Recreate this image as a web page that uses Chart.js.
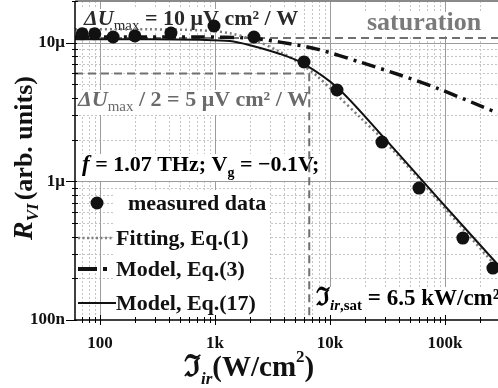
<!DOCTYPE html>
<html><head><meta charset="utf-8">
<script src="https://cdn.jsdelivr.net/npm/chart.js@4/dist/chart.umd.min.js"></script>
<style>html,body{margin:0;padding:0;background:#fff}#wrap{width:498px;height:388px}</style>
</head><body><div id="wrap"><canvas id="c" width="498" height="388"></canvas></div>
<script>
// ---- data ----
const xTickValues = [100, 1000, 10000, 100000];
const xTickLabels = ['100', '1k', '10k', '100k'];
const yTickValues = [1e-7, 1e-6, 1e-5];
const yTickLabels = ['100n', '1μ', '10μ'];

const measuredX = [70, 90, 130, 201, 414, 980, 2180, 5940, 11500, 28300, 59400, 143000, 261000];
const measuredY = [11.6e-6, 11.6e-6, 11.0e-6, 11.2e-6, 11.75e-6, 13.2e-6, 11.0e-6, 7.26e-6, 4.56e-6, 1.92e-6, 0.895e-6, 0.39e-6, 0.237e-6];

const fitX = [60.6, 272, 741, 1349, 2228, 3675, 5480, 7710, 11500, 18240, 28900, 60700, 135000, 289000];
const fitY = [12.5e-6, 12.5e-6, 12.3e-6, 11.7e-6, 10.4e-6, 8.6e-6, 7.1e-6, 5.75e-6, 4.2e-6, 2.9e-6, 2.0e-6, 1.02e-6, 0.48e-6, 0.235e-6];

const eq3X = [60.6, 741, 2015, 3675, 7710, 18240, 40600, 85200, 213000, 289000];
const eq3Y = [11.0e-6, 11.0e-6, 10.8e-6, 10.1e-6, 9.0e-6, 7.25e-6, 5.85e-6, 4.7e-6, 3.45e-6, 3.1e-6];

const eq17X = [60.6, 272, 741, 1349, 2015, 3675, 5820, 11740, 28900, 85200, 289000];
const eq17Y = [10.6e-6, 10.6e-6, 10.5e-6, 10.3e-6, 9.6e-6, 8.3e-6, 7.1e-6, 4.7e-6, 2.1e-6, 0.77e-6, 0.25e-6];

const uMaxLevel = 10.8e-6;
const uHalfLevel = 6.0e-6;
const satIntensity = 6600;

const xMin = 60.6, xMax = 289000, yMin = 1e-7, yMax = 2e-5;

// ---- helpers ----
const SERIF = "'Liberation Serif','DejaVu Serif',serif";
const pts = (xs, ys) => xs.map((x, i) => ({x, y: ys[i]}));
function F(size, style) { return (style || 'bold') + ' ' + size + 'px ' + SERIF; }
function richWidth(ctx, parts) {
  let w = 0;
  for (const p of parts) { ctx.font = p.f; w += ctx.measureText(p.t).width + (p.sp || 0); }
  return w;
}
function rich(ctx, x, y, parts, color) {
  let cx = x;
  ctx.textBaseline = 'alphabetic'; ctx.textAlign = 'left';
  for (const p of parts) {
    ctx.font = p.f; ctx.fillStyle = p.c || color;
    ctx.fillText(p.t, cx, y + (p.dy || 0));
    cx += ctx.measureText(p.t).width + (p.sp || 0);
  }
  return cx - x;
}
function seg(ctx, x1, y1, x2, y2) { ctx.beginPath(); ctx.moveTo(x1, y1); ctx.lineTo(x2, y2); ctx.stroke(); }

const annot = {
  uMax: [
    {t: 'ΔU', f: F(22, 'italic bold')},
    {t: 'max', f: F(15, 'normal'), dy: 5},
    {t: ' = 10 μV cm² / W', f: F(22)}
  ],
  uHalf: [
    {t: 'ΔU', f: F(22, 'italic bold')},
    {t: 'max', f: F(15, 'normal'), dy: 5},
    {t: ' / 2 = 5 μV cm² / W', f: F(22)}
  ],
  sat: [{t: 'saturation', f: F(26)}],
  freq: [
    {t: 'f', f: F(23, 'italic bold')},
    {t: ' = 1.07 THz; V', f: F(22)},
    {t: 'g', f: F(14), dy: 6},
    {t: ' = −0.1V;', f: F(22)}
  ],
  isat: [
    {t: 'ℑ', f: F(25)},
    {t: 'ir', f: F(15, 'italic bold'), dy: 5},
    {t: ',sat', f: F(15), dy: 5},
    {t: ' = 6.5 kW/cm²', f: F(23)}
  ]
};

const deco = {
  id: 'deco',
  beforeDatasetsDraw(chart) {
    const {ctx, chartArea: a, scales: {x, y}} = chart;
    ctx.save();
    ctx.beginPath(); ctx.rect(a.left, a.top, a.right - a.left, a.bottom - a.top); ctx.clip();
    // minor grid
    ctx.strokeStyle = '#c4c4c4'; ctx.lineWidth = 1; ctx.setLineDash([2, 2]);
    for (let d = 1; d <= 5; d++) for (let m = 2; m <= 9; m++) {
      const v = m * Math.pow(10, d); if (v < x.min || v > x.max) continue;
      const px = Math.round(x.getPixelForValue(v)) + 0.5; seg(ctx, px, a.top, px, a.bottom);
    }
    for (let d = -7; d <= -5; d++) for (let m = 2; m <= 9; m++) {
      const v = m * Math.pow(10, d); if (v < y.min || v > y.max) continue;
      const py = Math.round(y.getPixelForValue(v)) + 0.5; seg(ctx, a.left, py, a.right, py);
    }
    // major grid
    ctx.setLineDash([]); ctx.strokeStyle = '#9c9c9c'; ctx.lineWidth = 1;
    xTickValues.forEach(v => { const px = Math.round(x.getPixelForValue(v)) + 0.5; seg(ctx, px, a.top, px, a.bottom); });
    yTickValues.forEach(v => { const py = Math.round(y.getPixelForValue(v)) + 0.5; seg(ctx, a.left, py, a.right, py); });
    ctx.restore();

    // annotations with white boxes
    ctx.save();
    const box = (x0, base, parts, color, up, down) => {
      const w = richWidth(ctx, parts);
      ctx.fillStyle = '#fff'; ctx.fillRect(x0 - 2, base - up, w + 4, up + down);
      rich(ctx, x0, base, parts, color);
    };
    box(84, 25, annot.uMax, '#2a2a2a', 16, 8);
    box(78, 106, annot.uHalf, '#6a6a6a', 16, 9);
    box(367, 30, annot.sat, '#7a7a7a', 18, 6);
    box(82, 171, annot.freq, '#000', 17, 10);
    box(316, 305, annot.isat, '#000', 18, 11);

    // legend
    ctx.fillStyle = '#fff'; ctx.fillRect(115, 190, 155, 128);
    const lf = F(22);
    rich(ctx, 128, 210, [{t: 'measured data', f: lf}], '#111');
    rich(ctx, 116, 245, [{t: 'Fitting, Eq.(1)', f: lf}], '#111');
    rich(ctx, 116, 276, [{t: 'Model, Eq.(3)', f: lf}], '#111');
    rich(ctx, 116, 310, [{t: 'Model, Eq.(17)', f: lf}], '#111');
    ctx.restore();
  },
  afterDatasetsDraw(chart) {
    const {ctx, chartArea: a, scales: {x, y}} = chart;
    ctx.save();
    // legend symbols
    ctx.fillStyle = '#111'; ctx.beginPath(); ctx.arc(97, 203, 6.5, 0, Math.PI * 2); ctx.fill();
    ctx.strokeStyle = '#808080'; ctx.lineWidth = 2.5; ctx.setLineDash([2, 2.5]); seg(ctx, 78, 238, 114, 238);
    ctx.setLineDash([]); ctx.strokeStyle = '#111'; ctx.lineWidth = 4; seg(ctx, 78, 269, 97, 269);
    ctx.fillRect(103, 267, 4, 4);
    ctx.lineWidth = 2; seg(ctx, 78, 303, 116, 303);

    // top border
    ctx.strokeStyle = '#8a8a8a'; ctx.lineWidth = 2; seg(ctx, a.left, a.top, a.right, a.top);
    // axes
    ctx.strokeStyle = '#000'; ctx.lineWidth = 1.5;
    seg(ctx, a.left, a.top, a.left, a.bottom + 0.75);
    seg(ctx, a.left - 0.75, a.bottom, a.right, a.bottom);
    // tick marks
    ctx.lineWidth = 1;
    for (let d = 1; d <= 5; d++) for (let m = 1; m <= 9; m++) {
      const v = m * Math.pow(10, d); if (v < x.min || v > x.max) continue;
      const px = Math.round(x.getPixelForValue(v)) + 0.5;
      if (m === 1) seg(ctx, px, a.bottom - 5, px, a.bottom + 5); else seg(ctx, px, a.bottom - 3, px, a.bottom + 3);
    }
    for (let d = -7; d <= -5; d++) for (let m = 1; m <= 9; m++) {
      const v = m * Math.pow(10, d); if (v < y.min || v > y.max) continue;
      const py = Math.round(y.getPixelForValue(v)) + 0.5;
      if (m === 1) seg(ctx, a.left - 9, py, a.left + 2, py); else seg(ctx, a.left - 3, py, a.left + 3, py);
    }
    // x axis title
    const xt = [
      {t: 'ℑ', f: F(30)},
      {t: 'ir', f: F(17, 'italic bold'), dy: 8},
      {t: '(W/cm', f: F(29)},
      {t: '2', f: F(17), dy: -14},
      {t: ')', f: F(29)}
    ];
    rich(ctx, 184, 376, xt, '#111');
    // y axis title (rotated)
    const yt = [
      {t: 'R', f: F(28, 'italic bold')},
      {t: 'VI', f: F(17, 'italic bold'), dy: 6, sp: 3},
      {t: '(arb. units)', f: F(26)}
    ];
    ctx.translate(32, 158);
    ctx.rotate(-Math.PI / 2);
    const w = richWidth(ctx, yt);
    rich(ctx, -w / 2, 0, yt, '#111');
    ctx.restore();
  }
};

const dashed = {borderColor: '#707070', borderWidth: 2, borderDash: [8, 5], pointRadius: 0, showLine: true, fill: false};

new Chart(document.getElementById('c'), {
  type: 'scatter',
  data: {
    datasets: [
      {label: 'measured data', data: pts(measuredX, measuredY), pointRadius: 6.5, pointBackgroundColor: '#111', pointBorderColor: '#111', pointBorderWidth: 0, showLine: false},
      {label: 'Model, Eq.(17)', data: pts(eq17X, eq17Y), showLine: true, borderColor: '#111', borderWidth: 2, pointRadius: 0, tension: 0.3},
      {label: 'Fitting, Eq.(1)', data: pts(fitX, fitY), showLine: true, borderColor: '#7a7a7a', borderWidth: 2.5, borderDash: [2, 3], pointRadius: 0, tension: 0.3},
      {label: 'Model, Eq.(3)', data: pts(eq3X, eq3Y), showLine: true, borderColor: '#111', borderWidth: 3.5, borderDash: [14, 6, 3, 6], pointRadius: 0, tension: 0.3},
      Object.assign({label: 'max', data: [{x: xMin, y: uMaxLevel}, {x: xMax, y: uMaxLevel}]}, dashed),
      Object.assign({label: 'half', data: [{x: xMin, y: uHalfLevel}, {x: satIntensity, y: uHalfLevel}, {x: satIntensity, y: yMin}]}, dashed)
    ]
  },
  options: {
    responsive: false, animation: false, devicePixelRatio: 1,
    layout: {autoPadding: false, padding: {top: 1, right: 0, left: 0, bottom: 0}},
    plugins: {legend: {display: false}, tooltip: {enabled: false}},
    scales: {
      x: {
        type: 'logarithmic', min: xMin, max: xMax,
        afterBuildTicks: s => { s.ticks = xTickValues.map(v => ({value: v})); },
        afterFit: s => { s.height = 68; s.paddingLeft = 0; s.paddingRight = 0; },
        grid: {display: false, drawTicks: false}, border: {display: false},
        ticks: {autoSkip: false, maxRotation: 0, padding: 13, color: '#111', font: {family: SERIF, size: 17, weight: 'bold'}, callback: (v, i) => xTickLabels[i]}
      },
      y: {
        type: 'logarithmic', min: yMin, max: yMax,
        afterBuildTicks: s => { s.ticks = yTickValues.map(v => ({value: v})); },
        afterFit: s => { s.width = 75; s.paddingTop = 0; s.paddingBottom = 0; },
        grid: {display: false, drawTicks: false}, border: {display: false},
        ticks: {autoSkip: false, padding: 10, color: '#111', font: {family: SERIF, size: 17, weight: 'bold'}, callback: (v, i) => yTickLabels[i]}
      }
    }
  },
  plugins: [deco]
});
</script>
</body></html>
